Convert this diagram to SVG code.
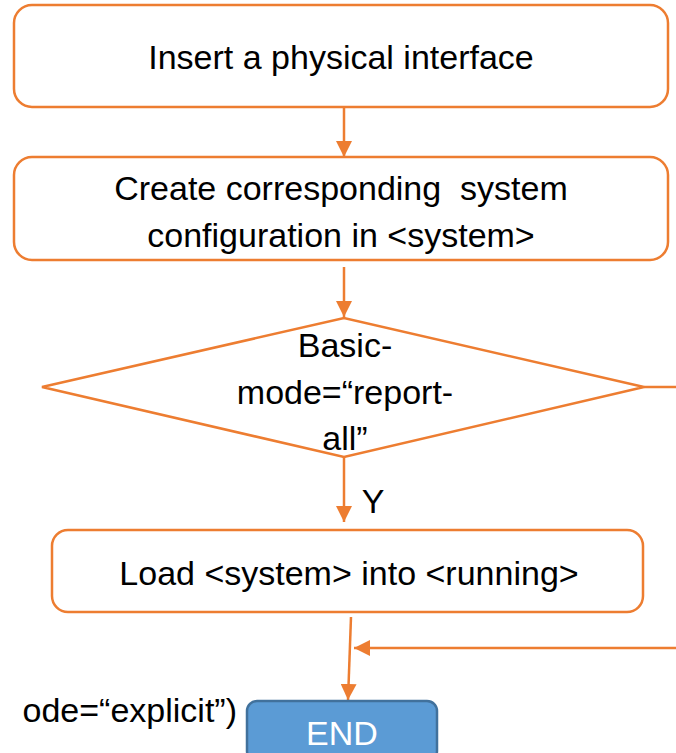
<svg xmlns="http://www.w3.org/2000/svg" width="676" height="753" viewBox="0 0 676 753">
  <style>
    .box { fill: #FFFFFF; stroke: #ED7D31; stroke-width: 2.5; }
    .wire { fill: none; stroke: #ED7D31; stroke-width: 2.5; }
    .lbl { font-family: "Liberation Sans", Arial, sans-serif; font-size: 34px; fill: #000000; text-anchor: middle; white-space: pre; }
    .end { fill: #5B9BD5; stroke: #41719C; stroke-width: 2.5; }
    .endtxt { font-family: "Liberation Sans", Arial, sans-serif; font-size: 34px; fill: #FFFFFF; text-anchor: middle; }
  </style>
  <defs>
    <marker id="head" viewBox="0 0 16 16" refX="16" refY="8" markerWidth="16" markerHeight="16" markerUnits="userSpaceOnUse" orient="auto">
      <path d="M0,0 L16,8 L0,16 Z" fill="#ED7D31"/>
    </marker>
  </defs>

  <!-- connectors -->
  <g id="connectors">
    <line class="wire" x1="344" y1="108" x2="344" y2="157" marker-end="url(#head)"/>
    <line class="wire" x1="344" y1="267" x2="344" y2="317" marker-end="url(#head)"/>
    <line class="wire" x1="644" y1="387" x2="676" y2="387"/>
    <line class="wire" x1="344" y1="457" x2="344" y2="522" marker-end="url(#head)"/>
    <line class="wire" x1="351" y1="617" x2="348" y2="700" marker-end="url(#head)"/>
    <line class="wire" x1="676" y1="648" x2="354" y2="648" marker-end="url(#head)"/>
    <text class="lbl" x="373" y="513">Y</text>
    <text class="lbl" x="237" y="722" style="text-anchor:end">ode=“explicit”)</text>
  </g>

  <g id="insert">
    <rect class="box" x="14" y="5" width="654" height="102" rx="18"/>
    <text class="lbl" x="341" y="69">Insert a physical interface</text>
  </g>

  <g id="create">
    <rect class="box" x="14" y="157" width="654" height="103" rx="18"/>
    <text class="lbl" x="341" y="200" xml:space="preserve">Create corresponding  system</text>
    <text class="lbl" x="341" y="247">configuration in &lt;system&gt;</text>
  </g>

  <g id="decision">
    <polygon class="box" points="42,387 344,318 644,387 344,457"/>
    <text class="lbl" x="345" y="357">Basic-</text>
    <text class="lbl" x="345" y="404">mode=“report-</text>
    <text class="lbl" x="345" y="450">all”</text>
  </g>

  <g id="load">
    <rect class="box" x="52" y="530" width="591" height="82" rx="16"/>
    <text class="lbl" x="349" y="585">Load &lt;system&gt; into &lt;running&gt;</text>
  </g>

  <g id="end">
    <rect class="end" x="247" y="701" width="190" height="60" rx="10"/>
    <text class="endtxt" x="342" y="745">END</text>
  </g>
</svg>
